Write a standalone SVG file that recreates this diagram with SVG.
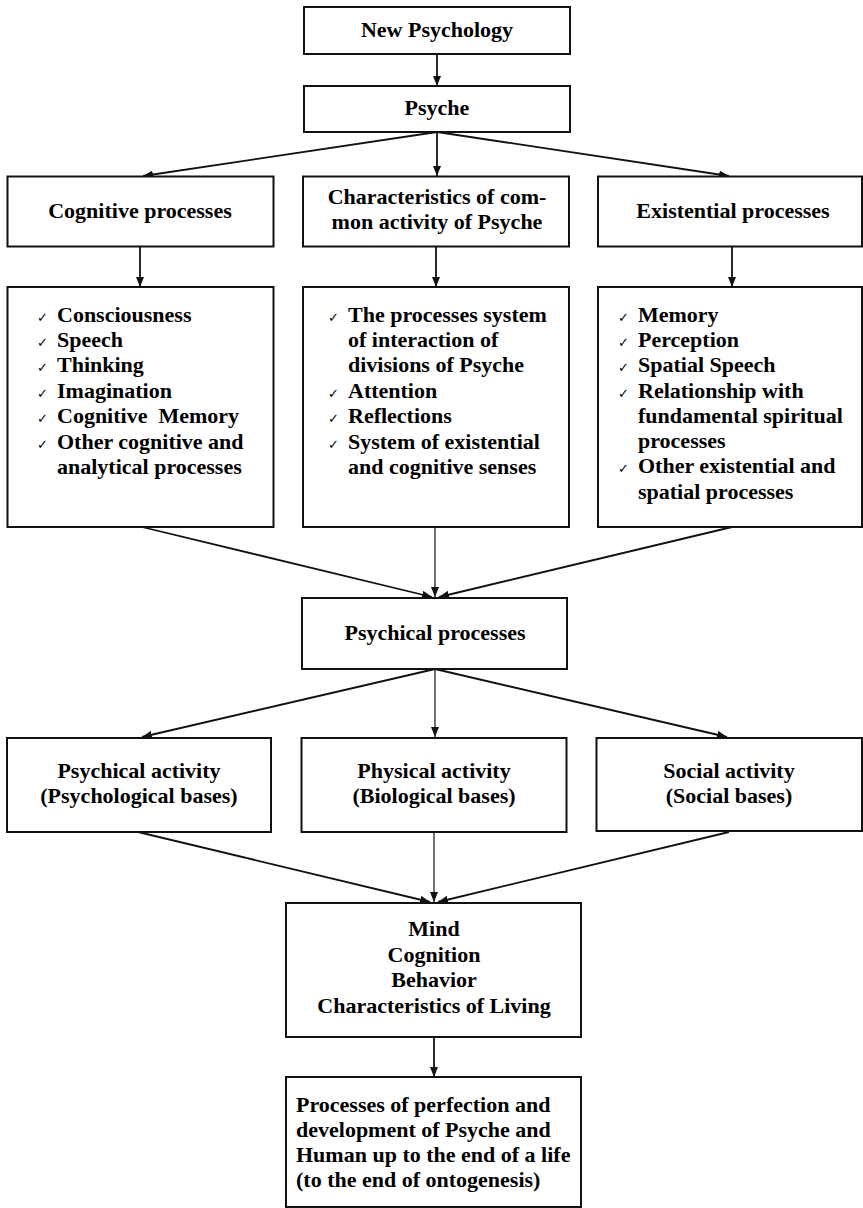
<svg xmlns="http://www.w3.org/2000/svg" width="863" height="1208" viewBox="0 0 863 1208">
<style>
.box{fill:#fff;stroke:#111;stroke-width:2}
.t{font-family:"Liberation Serif","Times New Roman",serif;font-weight:bold;font-size:22px;fill:#000}
.c{text-anchor:middle}
.ck{font-family:"DejaVu Sans",sans-serif;font-size:13px;font-weight:bold;fill:#000}
.ln{stroke:#111;stroke-width:1.8;fill:none;marker-end:url(#ah)}
.lt{stroke:#111;stroke-width:1.2;fill:none;marker-end:url(#ah)}
</style>
<defs>
<marker id="ah" markerUnits="userSpaceOnUse" viewBox="0 0 10 8" refX="10" refY="4" markerWidth="10" markerHeight="8" orient="auto">
<path d="M0,0 L10,4 L0,8 z" fill="#111"/>
</marker>
</defs>
<rect width="863" height="1208" fill="#fff"/>
<g id="connectors">
<line class="ln" x1="437" y1="54" x2="437" y2="86"/>
<line class="ln" x1="437" y1="132" x2="143" y2="176"/>
<line class="ln" x1="437" y1="132" x2="437" y2="176"/>
<line class="ln" x1="437" y1="132" x2="729" y2="176"/>
<line class="ln" x1="140" y1="247" x2="140" y2="287"/>
<line class="ln" x1="436" y1="247" x2="436" y2="287"/>
<line class="ln" x1="732" y1="247" x2="732" y2="287"/>
<line class="ln" x1="142" y1="527" x2="432" y2="597"/>
<line class="lt" x1="435" y1="527" x2="435" y2="597"/>
<line class="ln" x1="732" y1="527" x2="439" y2="597"/>
<line class="ln" x1="435" y1="669" x2="142" y2="737"/>
<line class="lt" x1="435" y1="669" x2="435" y2="737"/>
<line class="ln" x1="435" y1="669" x2="727" y2="737"/>
<line class="ln" x1="138" y1="832" x2="430" y2="902"/>
<line class="lt" x1="434" y1="832" x2="434" y2="902"/>
<line class="ln" x1="729" y1="832" x2="438" y2="902"/>
<line class="ln" x1="434" y1="1037" x2="434" y2="1077"/>
</g>
<g id="n-newpsychology">
<rect class="box" x="304" y="7" width="266" height="47"/>
<text class="t c" x="437" y="37">New Psychology</text>
</g>
<g id="n-psyche">
<rect class="box" x="304" y="86" width="266" height="46"/>
<text class="t c" x="437" y="115">Psyche</text>
</g>
<g id="n-cognitive">
<rect class="box" x="7.5" y="176.5" width="266" height="70"/>
<text class="t c" x="140" y="218">Cognitive processes</text>
</g>
<g id="n-characteristics">
<rect class="box" x="303" y="176.5" width="266" height="70"/>
<text class="t c" x="437" y="204">Characteristics of com-</text>
<text class="t c" x="437" y="229">mon activity of Psyche</text>
</g>
<g id="n-existential">
<rect class="box" x="598" y="176.5" width="264" height="70"/>
<text class="t c" x="733" y="218">Existential processes</text>
</g>
<g id="n-cognitive-list">
<rect class="box" x="7.5" y="287" width="266" height="240"/>
<text class="ck" x="37" y="322">✓</text><text class="t" x="57" y="322">Consciousness</text>
<text class="ck" x="37" y="347">✓</text><text class="t" x="57" y="347">Speech</text>
<text class="ck" x="37" y="372">✓</text><text class="t" x="57" y="372">Thinking</text>
<text class="ck" x="37" y="398">✓</text><text class="t" x="57" y="398">Imagination</text>
<text class="ck" x="37" y="423">✓</text><text class="t" x="57" y="423" xml:space="preserve">Cognitive  Memory</text>
<text class="ck" x="37" y="449">✓</text><text class="t" x="57" y="449">Other cognitive and</text>
<text class="t" x="57" y="474">analytical processes</text>
</g>
<g id="n-characteristics-list">
<rect class="box" x="303" y="287" width="266" height="240"/>
<text class="ck" x="328" y="322">✓</text><text class="t" x="348" y="322">The processes system</text>
<text class="t" x="348" y="347">of interaction of</text>
<text class="t" x="348" y="372">divisions of Psyche</text>
<text class="ck" x="328" y="398">✓</text><text class="t" x="348" y="398">Attention</text>
<text class="ck" x="328" y="423">✓</text><text class="t" x="348" y="423">Reflections</text>
<text class="ck" x="328" y="449">✓</text><text class="t" x="348" y="449">System of existential</text>
<text class="t" x="348" y="474">and cognitive senses</text>
</g>
<g id="n-existential-list">
<rect class="box" x="598" y="287" width="264" height="240"/>
<text class="ck" x="618" y="322">✓</text><text class="t" x="638" y="322">Memory</text>
<text class="ck" x="618" y="347">✓</text><text class="t" x="638" y="347">Perception</text>
<text class="ck" x="618" y="372">✓</text><text class="t" x="638" y="372">Spatial Speech</text>
<text class="ck" x="618" y="398">✓</text><text class="t" x="638" y="398">Relationship with</text>
<text class="t" x="638" y="423">fundamental spiritual</text>
<text class="t" x="638" y="448">processes</text>
<text class="ck" x="618" y="473">✓</text><text class="t" x="638" y="473">Other existential and</text>
<text class="t" x="638" y="499">spatial processes</text>
</g>
<g id="n-psychical-processes">
<rect class="box" x="302" y="598" width="265" height="71"/>
<text class="t c" x="435" y="640">Psychical processes</text>
</g>
<g id="n-psychical-activity">
<rect class="box" x="7" y="738" width="264" height="94"/>
<text class="t c" x="139" y="778">Psychical activity</text>
<text class="t c" x="139" y="803">(Psychological bases)</text>
</g>
<g id="n-physical-activity">
<rect class="box" x="301.5" y="738" width="265" height="94"/>
<text class="t c" x="434" y="778">Physical activity</text>
<text class="t c" x="434" y="803">(Biological bases)</text>
</g>
<g id="n-social-activity">
<rect class="box" x="596.5" y="738" width="265.5" height="93"/>
<text class="t c" x="729" y="778">Social activity</text>
<text class="t c" x="729" y="803">(Social bases)</text>
</g>
<g id="n-mind">
<rect class="box" x="286" y="903" width="295" height="134"/>
<text class="t c" x="434" y="936">Mind</text>
<text class="t c" x="434" y="962">Cognition</text>
<text class="t c" x="434" y="987">Behavior</text>
<text class="t c" x="434" y="1013">Characteristics of Living</text>
</g>
<g id="n-processes">
<rect class="box" x="286" y="1077" width="295" height="130"/>
<text class="t" x="296" y="1112">Processes of perfection and</text>
<text class="t" x="296" y="1137">development of Psyche and</text>
<text class="t" x="296" y="1162">Human up to the end of a life</text>
<text class="t" x="296" y="1187">(to the end of ontogenesis)</text>
</g>
</svg>
